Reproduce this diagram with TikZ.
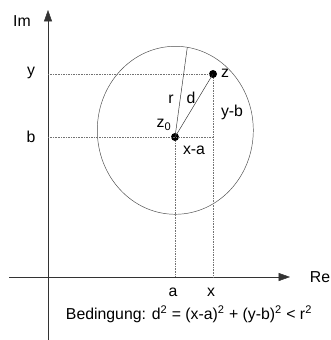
\documentclass[tikz,border=0pt]{standalone}
\usepackage{fontspec}
\setmainfont{Liberation Sans}
\usetikzlibrary{arrows.meta}
\tikzset{
  axis/.style={draw=black!80, -{Triangle[length=3.4mm, width=2.4mm]}},
  helpline/.style={draw=black!55, densely dotted},
  dot/.style={circle, fill=black, inner sep=0pt, minimum size=2.4mm},
  lbl/.style={inner sep=0pt}
}
\begin{document}
\begin{tikzpicture}[x=0.03cm, y=-0.03cm, every node/.style={font=\fontsize{13.5}{15}\selectfont}]
  \useasboundingbox (0,0) rectangle (330,340);
  % axes
  \coordinate (imbot) at (48,340);
  \coordinate (imtop) at (48,10);
  \coordinate (releft) at (9,277);
  \coordinate (reright) at (290,277);
  \draw[axis] (imbot) -- (imtop);
  \draw[axis] (releft) -- (reright);
  \node[lbl] (im) at (22,21) {Im};
  \node[lbl] (re) at (320,277) {Re};
  % points
  \node[dot] (z0) at (175,137) {};
  \node[dot] (z) at (213,74) {};
  \coordinate (ry) at (48,74);
  \coordinate (rb) at (48,137);
  \coordinate (zb) at (213,137);
  \coordinate (ax) at (175,277);
  \coordinate (xx) at (213,277);
  \coordinate (rtop) at (187.3,47.3);
  % circle
  \draw[black!70] (175.3,130.3) ellipse [x radius=78, y radius=84];
  % dotted helper lines
  \draw[helpline] (ry) -- (z);
  \draw[helpline] (rb) -- (zb);
  \draw[helpline] (z0) -- (ax);
  \draw[helpline] (z) -- (xx);
  % radius and distance
  \draw[black!80] (z0.center) -- (rtop);
  \draw[black!80] (z0.center) -- (z.center);
  % labels
  \node[lbl] (ly) at (31,73) {y};
  \node[lbl] (lb) at (31,137) {b};
  \node[lbl] (lr) at (171,99) {r};
  \node[lbl] (ld) at (191,98) {d};
  \node[lbl] (lyb) at (232,112) {y-b};
  \node[lbl] (lz) at (225,73) {z};
  \node[lbl] (lz0) at (164,125) {z\textsubscript{0}};
  \node[lbl] (lxa) at (194,150) {x-a};
  \node[lbl] (la) at (173,292) {a};
  \node[lbl] (lx) at (211,292) {x};
  \node[lbl] (cond) at (189,314) {Bedingung: d\textsuperscript{2} = (x-a)\textsuperscript{2} + (y-b)\textsuperscript{2} < r\textsuperscript{2}};
\end{tikzpicture}
\end{document}
